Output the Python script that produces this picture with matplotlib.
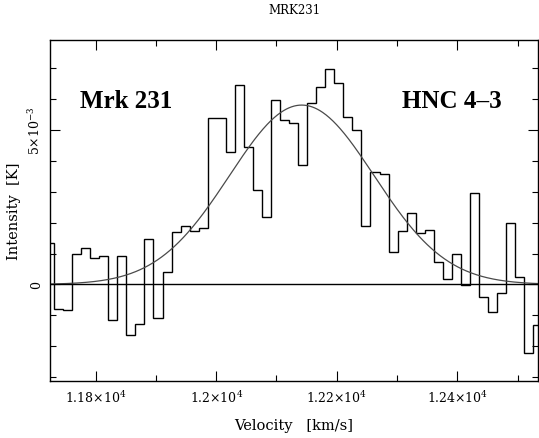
"""Mrk 231 HNC 4-3 spectrum with Gaussian fit, CLASS-like look."""
import numpy as np
import matplotlib
matplotlib.use('Agg')
import matplotlib.pyplot as plt
from matplotlib.ticker import FixedLocator, MultipleLocator

# spectrum: first channel starts at v_start, channels of chan_width km/s
v_start = 11716.0
chan_width = 15.0
intensity_mk = [
    1.33, -0.80, -0.84, 1.00, 1.18, 0.87, 0.91, -1.16, 0.91, -1.65,
    -1.28, 1.46, -1.09, 0.41, 1.69, 1.89, 1.73, 1.83, 5.39, 5.37,
    4.28, 6.46, 4.43, 3.04, 2.19, 5.97, 5.32, 5.21, 3.87, 5.88,
    6.39, 6.98, 6.52, 5.42, 4.99, 1.90, 3.64, 3.58, 1.06, 1.73,
    2.32, 1.65, 1.75, 0.74, 0.19, 0.97, -0.02, 2.96, -0.40, -0.89,
    -0.29, 2.00, 0.25, -2.21, -1.31,
]

# gaussian fit parameters
fit_amp_mk = 5.80
fit_center = 12142.0
fit_sigma = 120.0

x_ticks = [11800, 12000, 12200, 12400]
x_labels = [r'1.18$\times$10$^{4}$', r'1.2$\times$10$^{4}$',
            r'1.22$\times$10$^{4}$', r'1.24$\times$10$^{4}$']
y_ticks = [0.0, 5e-3]
y_labels = ['0', r'5$\times$10$^{-3}$']


def main() -> None:
    plt.rcParams['font.family'] = ['DejaVu Serif']
    plt.rcParams['mathtext.fontset'] = 'dejavuserif'

    values = np.array(intensity_mk) * 1e-3
    edges = v_start + chan_width * np.arange(len(values) + 1)

    fig = plt.figure(figsize=(5.39, 4.39), dpi=100)
    ax = fig.add_axes([0.0924, 0.130, 0.9058, 0.7756])

    ax.stairs(values, edges, color='black', linewidth=1.0, baseline=None)
    vv = np.linspace(11700, 12560, 600)
    fit = fit_amp_mk * 1e-3 * np.exp(-0.5 * ((vv - fit_center) / fit_sigma) ** 2)
    ax.plot(vv, fit, color='#4a4a4a', linewidth=0.9)
    ax.axhline(0.0, color='black', linewidth=1.0)

    ax.set_xlim(11724, 12534)
    ax.set_ylim(-3.12e-3, 7.89e-3)

    ax.xaxis.set_major_locator(FixedLocator(x_ticks))
    ax.set_xticklabels(x_labels, fontsize=9)
    ax.xaxis.set_minor_locator(MultipleLocator(100))
    ax.yaxis.set_major_locator(FixedLocator(y_ticks))
    ax.set_yticklabels(y_labels, fontsize=9, rotation=90, va='center')
    ax.yaxis.set_minor_locator(MultipleLocator(1e-3))

    ax.tick_params(which='both', direction='in', top=True, right=True,
                   color='black', width=0.8)
    ax.tick_params(which='major', length=7)
    ax.tick_params(which='minor', length=4)
    ax.tick_params(axis='x', pad=6)
    ax.tick_params(axis='y', pad=5)
    for spine in ax.spines.values():
        spine.set_linewidth(1.0)

    ax.set_xlabel('Velocity   [km/s]', fontsize=10.5, labelpad=9)
    ax.set_ylabel('Intensity  [K]', fontsize=10.5)
    ax.yaxis.set_label_coords(-0.060, 0.5)
    fig.text(0.546, 0.977, 'MRK231', fontsize=8.5, ha='center', va='center')

    ax.text(0.062, 0.804, 'Mrk 231', transform=ax.transAxes,
            family='Liberation Serif', weight='bold', fontsize=18,
            va='baseline', ha='left')
    ax.text(0.721, 0.804, 'HNC 4\u20133', transform=ax.transAxes,
            family='Liberation Serif', weight='bold', fontsize=18,
            va='baseline', ha='left')

    fig.savefig('out.png', dpi=100)


if __name__ == '__main__':
    main()
